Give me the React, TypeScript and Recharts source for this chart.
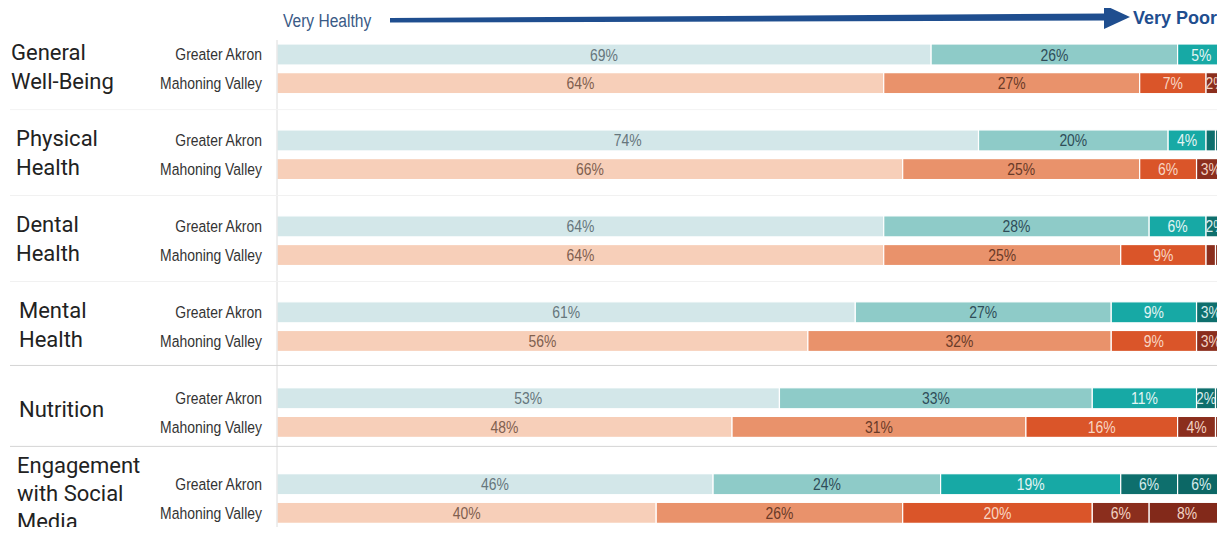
import React from "react";
import { BarChart, Bar, XAxis, YAxis } from "recharts";

// ---- data ----
const categories = [
  "General Well-Being",
  "Physical Health",
  "Dental Health",
  "Mental Health",
  "Nutrition",
  "Engagement with Social Media",
];
const categoryLines = [
  ["General", "Well-Being"],
  ["Physical", "Health"],
  ["Dental", "Health"],
  ["Mental", "Health"],
  ["Nutrition"],
  ["Engagement", "with Social", "Media"],
];
const regions = ["Greater Akron", "Mahoning Valley"];
const levels = ["Very Healthy", "Healthy", "Fair", "Poor", "Very Poor"];

// Greater Akron, per level (one value per category)
const akronL1 = [69, 74, 64, 61, 53, 46];
const akronL2 = [26, 20, 28, 27, 33, 24];
const akronL3 = [5, 4, 6, 9, 11, 19];
const akronL4 = [0.4, 1, 2, 3, 2, 6];
const akronL5 = [0.4, 1, 0.5, 0.5, 1, 6];

// Mahoning Valley, per level
const mahoningL1 = [64, 66, 64, 56, 48, 40];
const mahoningL2 = [27, 25, 25, 32, 31, 26];
const mahoningL3 = [7, 6, 9, 9, 16, 20];
const mahoningL4 = [2, 3, 1, 3, 4, 6];
const mahoningL5 = [0, 0, 1, 1, 1, 8];

const headerLeft = "Very Healthy";
const headerRight = "Very Poor";

// ---- styles ----
const tealColors = ["#d3e7e9", "#8ecbc8", "#17a9a5", "#0e6f6d", "#0c6765"];
const orangeColors = ["#f7cfb9", "#e9926b", "#da5529", "#8b2e1d", "#82291a"];
const tealText = ["#66767c", "#2f4d58", "#e4f5f4", "#d6ecec", "#d6ecec"];
const orangeText = ["#80604f", "#6a3a28", "#f8d6c4", "#f2d2c2", "#f2d2c2"];
const SANS = "'Liberation Sans', Arial, sans-serif";
const CAT_FONT = "Roboto, 'Liberation Sans', sans-serif";
const CAT_X = [11, 16, 16, 19, 19, 17];
const SEP_SHIFT = [-2, -2, -2, -4, -9];
const SEP_COLOR = ["#f3f3f3", "#f1f1f1", "#f1f1f1", "#d4d4d4", "#d4d4d4"];
const NARROW_SCALE = 0.82;

const akronLevels = [akronL1, akronL2, akronL3, akronL4, akronL5];
const mahoningLevels = [mahoningL1, mahoningL2, mahoningL3, mahoningL4, mahoningL5];

type Row = { id: string; region: number; cat: number; [k: string]: any };
const rows: Row[] = [];
categories.forEach((_, i) => {
  const a: Row = { id: `a${i}`, region: 0, cat: i };
  const m: Row = { id: `m${i}`, region: 1, cat: i };
  levels.forEach((_, k) => {
    a[`v${k}`] = akronLevels[k][i];
    m[`v${k}`] = mahoningLevels[k][i];
  });
  rows.push(a, m);
  if (i < categories.length - 1) rows.push({ id: `s${i}`, region: -1, cat: i });
});
const rowById: Record<string, Row> = {};
rows.forEach((r) => (rowById[r.id] = r));

const NarrowText = ({
  x,
  y,
  size,
  fill,
  anchor = "start",
  weight = "normal",
  children,
}: {
  x: number;
  y: number;
  size: number;
  fill: string;
  anchor?: string;
  weight?: string;
  children: React.ReactNode;
}) => (
  <text
    transform={`translate(${x},${y}) scale(${NARROW_SCALE},1)`}
    x={0}
    y={0}
    textAnchor={anchor as any}
    fontFamily={SANS}
    fontSize={size}
    fontWeight={weight}
    fill={fill}
  >
    {children}
  </text>
);

const makeShape = (k: number) => (props: any) => {
  const { x, y, width, height, payload } = props;
  if (!payload || payload.region < 0 || !width || width <= 0) return <g />;
  const isA = payload.region === 0;
  const fill = isA ? tealColors[k] : orangeColors[k];
  const value = payload[`v${k}`];
  const showLabel = value >= 2;
  return (
    <g>
      <rect x={x} y={y} width={width} height={height} fill={fill} stroke="#ffffff" strokeWidth={1.2} />
      {showLabel && (
        <NarrowText
          x={x + width / 2}
          y={y + height / 2 + 6}
          anchor="middle"
          size={17}
          fill={isA ? tealText[k] : orangeText[k]}
        >
          {`${value}%`}
        </NarrowText>
      )}
    </g>
  );
};

const renderTick = (props: any) => {
  const { y, payload } = props;
  const row = rowById[payload.value];
  if (!row) return <g />;
  if (row.region < 0) {
    const ly = y + SEP_SHIFT[row.cat];
    return <line x1={10} x2={1225} y1={ly} y2={ly} stroke={SEP_COLOR[row.cat]} strokeWidth={1} />;
  }
  const lines = categoryLines[row.cat];
  let catEls: React.ReactNode = null;
  if (row.region === 0) {
    let offs: number[];
    if (lines.length === 1) offs = [19];
    else if (lines.length === 2) offs = [6, 34.5];
    else offs = [-11, 17, 45];
    catEls = lines.map((t, j) => (
      <text key={j} x={CAT_X[row.cat]} y={y + offs[j]} fontFamily={CAT_FONT} fontSize={22} fill="#222">
        {t}
      </text>
    ));
  }
  return (
    <g>
      {catEls}
      <NarrowText x={262} y={y + 6} anchor="end" size={17} fill="#333">
        {regions[row.region]}
      </NarrowText>
    </g>
  );
};

export default function App() {
  return (
    <div style={{ position: "relative", width: 1225, height: 535, margin: -8, background: "#fff" }}>
      <BarChart
        width={1225}
        height={535}
        data={rows}
        layout="vertical"
        margin={{ top: 40, right: 0, bottom: 8, left: 0 }}
        barSize={21}
      >
        <XAxis type="number" domain={[0, 100]} allowDataOverflow hide />
        <YAxis
          type="category"
          dataKey="id"
          width={277}
          interval={0}
          tickLine={false}
          axisLine={{ stroke: "#dcdcdc" }}
          tick={renderTick}
        />
        {levels.map((lv, k) => (
          <Bar
            key={lv}
            name={lv}
            dataKey={`v${k}`}
            stackId="s"
            isAnimationActive={false}
            shape={makeShape(k)}
          />
        ))}
      </BarChart>
      <svg
        width={1225}
        height={40}
        style={{ position: "absolute", left: 0, top: 0, pointerEvents: "none" }}
      >
        <NarrowText x={283} y={27} size={19} fill="#3a5a86">
          {headerLeft}
        </NarrowText>
        <polygon points="390,18 1106,13.5 1106,20.5 390,22.5" fill="#1f4e8f" />
        <polygon points="1104,5 1130,17 1104,29" fill="#1f4e8f" />
        <text x={1133} y={24} fontFamily={SANS} fontWeight="bold" fontSize={18} fill="#1f4e8f">
          {headerRight}
        </text>
      </svg>
    </div>
  );
}
